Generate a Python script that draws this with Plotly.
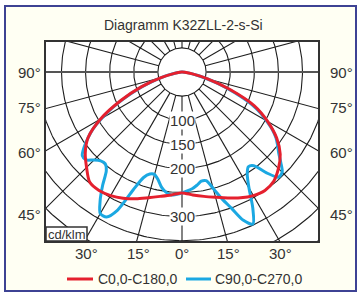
import numpy as np
import plotly.graph_objects as go

# ---------------- data ----------------
title_text = "Diagramm K32ZLL-2-s-Si"
unit_text = "cd/klm"
series_names = ["C0,0-C180,0", "C90,0-C270,0"]

red_angles = [0, 5, 10, 15, 20, 25, 30, 35, 40, 45, 50, 55, 60, 65, 70, 75, 80, 85, 90]
red_c0 = [251, 256, 262, 269, 278, 288, 296, 300, 296, 283, 266, 240, 205, 165, 105, 55, 22, 6, 0]
red_c180 = [251, 256, 262, 270, 280, 289, 296, 300, 298, 280, 262, 238, 195, 140, 90, 45, 16, 5, 0]

blue_angles = [0, 2.5, 5, 7.5, 10, 12.5, 15, 17.5, 20, 22.5, 25, 27.5, 30, 32.5, 35, 37.5, 40,
               42.5, 45, 47.5, 50, 52.5, 55, 57.5, 60, 62.5, 65, 67.5, 70, 72.5, 75, 77.5, 80,
               82.5, 85, 87.5, 90]
blue_c90 = [250, 247, 243, 237, 230, 231, 250, 276, 301, 333, 348, 318, 278, 252, 240, 245, 273,
            296, 294, 278, 262, 250, 238, 222, 202, 183, 160, 130, 100, 74, 52, 34, 20,
            10, 5, 1, 0]
blue_c270 = [251, 254, 256, 252, 243, 229, 220, 222, 233, 265, 316, 339, 339, 316, 287, 258, 248,
             250, 258, 270, 270, 256, 238, 218, 192, 165, 137, 110, 87, 64, 43, 28, 15,
             8, 4, 1, 0]

radial_tick_values = [100, 150, 200, 300]
grid_radii = [50, 100, 150, 200, 250, 300, 350, 400, 450]
spoke_step = 15
side_angle_labels = ["90°", "75°", "60°", "45°"]
bottom_angle_labels = ["30°", "15°", "0°", "15°", "30°"]

# ---------------- geometry (pixels) ----------------
W, H = 358, 293
ML, MR, MT, MB = 46, 40, 42, 52
PW, PH = W - ML - MR, H - MT - MB
CXP, CYP = 182, 72          # pixel of the polar origin
S = 0.482                   # pixels per cd/klm
XR = [-(CXP - ML) / S, (W - MR - CXP) / S]
YR = [-(H - MB - CYP) / S, (CYP - MT) / S]


def px_(px):
    return (px - ML) / PW


def py_(py):
    return 1 - (py - MT) / PH


FONT = "Liberation Sans, Arial, sans-serif"
TXT = "#333333"
RED = "#e5202e"
BLUE = "#1ba8e2"


def half_to_xy(angles, left_vals, right_vals):
    a = np.array(angles, dtype=float)
    g = np.concatenate([-a[::-1], a[1:]])
    r = np.concatenate([np.array(left_vals, float)[::-1], np.array(right_vals, float)[1:]])
    t = np.radians(g)
    return r * np.sin(t), -r * np.cos(t)


fig = go.Figure()

# grid circles
gx, gy = [], []
tt = np.linspace(0, 2 * np.pi, 361)
for r in grid_radii:
    gx += list(r * np.cos(tt)) + [None]
    gy += list(r * np.sin(tt)) + [None]
# spokes
hx, hy = [], []
for a in range(0, 360, spoke_step):
    t = np.radians(a)
    xs = [50 * np.sin(t), 700 * np.sin(t)]
    ys = [-50 * np.cos(t), -700 * np.cos(t)]
    if a in (90, 270):
        hx += xs + [None]
        hy += ys + [None]
    else:
        gx += xs + [None]
        gy += ys + [None]

fig.add_trace(go.Scatter(x=gx, y=gy, mode="lines", line=dict(color="#1e1e1e", width=1.1),
                         hoverinfo="skip", showlegend=False))
fig.add_trace(go.Scatter(x=hx, y=hy, mode="lines", line=dict(color="#555555", width=2),
                         hoverinfo="skip", showlegend=False))

bx, by = half_to_xy(blue_angles, blue_c270, blue_c90)
rx, ry = half_to_xy(red_angles, red_c180, red_c0)
fig.add_trace(go.Scatter(x=bx, y=by, mode="lines", name=series_names[1],
                         line=dict(color=BLUE, width=3, shape="spline", smoothing=0.8),
                         showlegend=False))
fig.add_trace(go.Scatter(x=rx, y=ry, mode="lines", name=series_names[0],
                         line=dict(color=RED, width=3, shape="spline", smoothing=0.8),
                         showlegend=False))

ann = []
# radial value labels on the 0° line
for v in radial_tick_values:
    ann.append(dict(x=0, y=-v, xref="x", yref="y", text=str(v), showarrow=False,
                    font=dict(family=FONT, size=15, color=TXT), bgcolor="white", borderpad=0))


def txt(px, py, text, size=15, anchor="center"):
    ann.append(dict(x=px_(px), y=py_(py), xref="paper", yref="paper", text=text,
                    showarrow=False, xanchor=anchor, yanchor="middle",
                    font=dict(family=FONT, size=size, color=TXT)))


side_y = [72, 107, 152, 214]
for lab, py in zip(side_angle_labels, side_y):
    for px in (29, 341):
        txt(px, py, lab)
bottom_x = [86, 138, 182, 228, 280]
for lab, px in zip(bottom_angle_labels, bottom_x):
    txt(px, 253, lab)

txt(183, 25, title_text, size=14)
txt(66.5, 234.5, unit_text, size=13)
txt(96, 279, series_names[0], size=14, anchor="left")
txt(213, 279, series_names[1], size=14, anchor="left")

shapes = [
    # outer frame
    dict(type="rect", xref="paper", yref="paper", x0=px_(5), x1=px_(356), y0=py_(6), y1=py_(291),
         line=dict(color="#3d4294", width=2), fillcolor="#fffff3", layer="below"),
    dict(type="rect", xref="paper", yref="paper", x0=0, x1=1, y0=0, y1=1,
         line=dict(width=0), fillcolor="white", layer="below"),
    # unit box
    dict(type="rect", xref="paper", yref="paper", x0=px_(46), x1=px_(87), y0=py_(227), y1=py_(241),
         line=dict(color="#333333", width=1.5), fillcolor="white", layer="above"),
    # legend lines
    dict(type="line", xref="paper", yref="paper", x0=px_(67), x1=px_(93), y0=py_(279), y1=py_(279),
         line=dict(color=RED, width=3)),
    dict(type="line", xref="paper", yref="paper", x0=px_(186), x1=px_(211), y0=py_(279), y1=py_(279),
         line=dict(color=BLUE, width=3)),
]

fig.update_layout(
    width=W, height=H,
    margin=dict(l=ML, r=MR, t=MT, b=MB, pad=0),
    paper_bgcolor="white", plot_bgcolor="white",
    annotations=ann, shapes=shapes, showlegend=False,
    xaxis=dict(range=XR, showgrid=False, zeroline=False, showticklabels=False, ticks="",
               showline=True, mirror=True, linecolor="#333333", linewidth=2, fixedrange=True),
    yaxis=dict(range=YR, showgrid=False, zeroline=False, showticklabels=False, ticks="",
               showline=True, mirror=True, linecolor="#333333", linewidth=2, fixedrange=True),
)

fig.write_html("out.html", config={"displayModeBar": False},
               post_script="document.body.style.margin='0px';document.body.style.overflow='hidden';")
